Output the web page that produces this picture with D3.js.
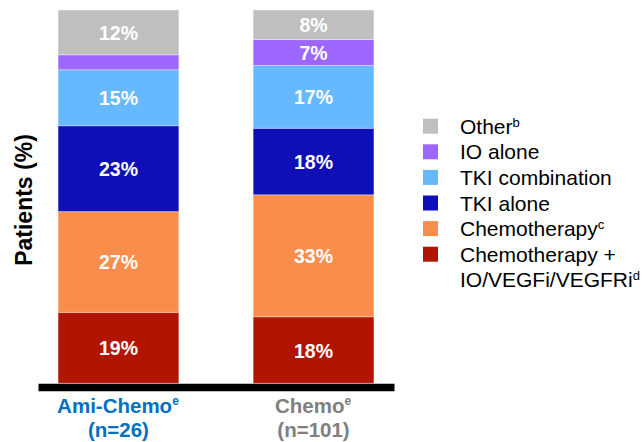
<!DOCTYPE html>
<html>
<head>
<meta charset="utf-8">
<script src="https://cdn.jsdelivr.net/npm/d3@7"></script>
<style>
  html, body { margin: 0; padding: 0; background: #fff; }
  svg { display: block; font-family: "Liberation Sans", Arial, sans-serif; }
</style>
</head>
<body>
<svg id="chart" width="644" height="442"></svg>
<script>
// Treatment groups (x categories)
const groups = ["Ami-Chemo", "Chemo"];
const groupSizes = ["(n=26)", "(n=101)"];
// Treatment types, bottom to top of each stack
const treatments = ["Chemotherapy + IO/VEGFi/VEGFRi", "Chemotherapy", "TKI alone", "TKI combination", "IO alone", "Other"];
// Percentage of patients per treatment type, in stack order
const amiChemoValues = [19, 27, 23, 15, 4, 12];
const chemoValues = [18, 33, 18, 17, 7, 8];
// Segments that carry a printed percentage
const amiChemoLabelled = [true, true, true, true, false, true];
const chemoLabelled = [true, true, true, true, true, true];

const colors = ["#b11500", "#f98e4c", "#0f0fb8", "#66b8ff", "#9c66ff", "#bfbfbf"];
const groupColors = ["#0070c0", "#808080"];

const rows = groups.map((g, i) => {
  const vals = i === 0 ? amiChemoValues : chemoValues;
  const row = { group: g };
  treatments.forEach((t, j) => row[t] = vals[j]);
  return row;
});
const labelled = [amiChemoLabelled, chemoLabelled];

const svg = d3.select("#chart");

const plotTop = 10, plotBottom = 383.3;
const x = d3.scaleBand().domain(groups).range([38, 394]).paddingInner(0.381).paddingOuter(0.103);
const y = d3.scaleLinear().domain([0, 1]).range([plotBottom, plotTop]);

// Each bar is normalised to its own total (100% stack)
const stack = d3.stack().keys(treatments).offset(d3.stackOffsetExpand);
const series = stack(rows);

const layers = svg.append("g").selectAll("g")
  .data(series).join("g")
  .attr("fill", (d, i) => colors[i]);

layers.selectAll("rect")
  .data(d => d.map(p => ({ p, key: d.key })))
  .join("rect")
  .attr("x", d => x(d.p.data.group))
  .attr("width", x.bandwidth())
  .attr("y", d => y(d.p[1]))
  .attr("height", d => y(d.p[0]) - y(d.p[1]))
  .attr("stroke", "#ffffff")
  .attr("stroke-opacity", 0.35)
  .attr("stroke-width", 1);

// Percentage labels
series.forEach((s, si) => {
  s.forEach((p, gi) => {
    if (!labelled[gi][si]) return;
    svg.append("text")
      .attr("x", x(p.data.group) + x.bandwidth() / 2)
      .attr("y", (y(p[0]) + y(p[1])) / 2 + 7.5)
      .attr("text-anchor", "middle")
      .attr("fill", "#ffffff")
      .attr("font-weight", "bold")
      .attr("font-size", 19.5)
      .text(p.data[s.key] + "%");
  });
});

// Baseline axis (thick bar)
const xAxis = d3.axisBottom(x).tickSize(0).tickFormat("");
const axisG = svg.append("g").attr("transform", `translate(0,${plotBottom + 3.7})`).call(xAxis);
axisG.select(".domain").attr("stroke", "#000").attr("stroke-width", 7.5);

// Category labels with superscript
groups.forEach((g, i) => {
  const cx = x(g) + x.bandwidth() / 2;
  const t = svg.append("text")
    .attr("x", cx - 0.5)
    .attr("y", 413)
    .attr("text-anchor", "middle")
    .attr("fill", groupColors[i])
    .attr("font-weight", "bold")
    .attr("font-size", 20.5);
  t.append("tspan").text(g);
  t.append("tspan").attr("font-size", 12).attr("dy", -8).text("e");
  svg.append("text")
    .attr("x", cx)
    .attr("y", 437)
    .attr("text-anchor", "middle")
    .attr("fill", groupColors[i])
    .attr("font-weight", "bold")
    .attr("font-size", 20.5)
    .text(groupSizes[i]);
});

// Y axis title
svg.append("text")
  .attr("transform", "translate(32,200) rotate(-90)")
  .attr("text-anchor", "middle")
  .attr("font-weight", "bold")
  .attr("font-size", 23)
  .attr("fill", "#000")
  .text("Patients (%)");

// Legend, top entry first
const legendItems = [
  { key: "Other", lines: ["Other"], sup: "b" },
  { key: "IO alone", lines: ["IO alone"], sup: "" },
  { key: "TKI combination", lines: ["TKI combination"], sup: "" },
  { key: "TKI alone", lines: ["TKI alone"], sup: "" },
  { key: "Chemotherapy", lines: ["Chemotherapy"], sup: "c" },
  { key: "Chemotherapy + IO/VEGFi/VEGFRi", lines: ["Chemotherapy +", "IO/VEGFi/VEGFRi"], sup: "d" }
];
const legend = svg.append("g");
legendItems.forEach((item, i) => {
  const top = 118.7 + i * 25.6;
  legend.append("rect")
    .attr("x", 423).attr("y", top)
    .attr("width", 15).attr("height", 15)
    .attr("fill", colors[treatments.indexOf(item.key)]);
  item.lines.forEach((line, li) => {
    const t = legend.append("text")
      .attr("x", 460)
      .attr("y", top + 15 + li * 25)
      .attr("font-size", 21)
      .attr("fill", "#000");
    t.append("tspan").text(line);
    if (item.sup && li === item.lines.length - 1) {
      t.append("tspan").attr("font-size", 13).attr("dy", -7).text(item.sup);
    }
  });
});
</script>
</body>
</html>
